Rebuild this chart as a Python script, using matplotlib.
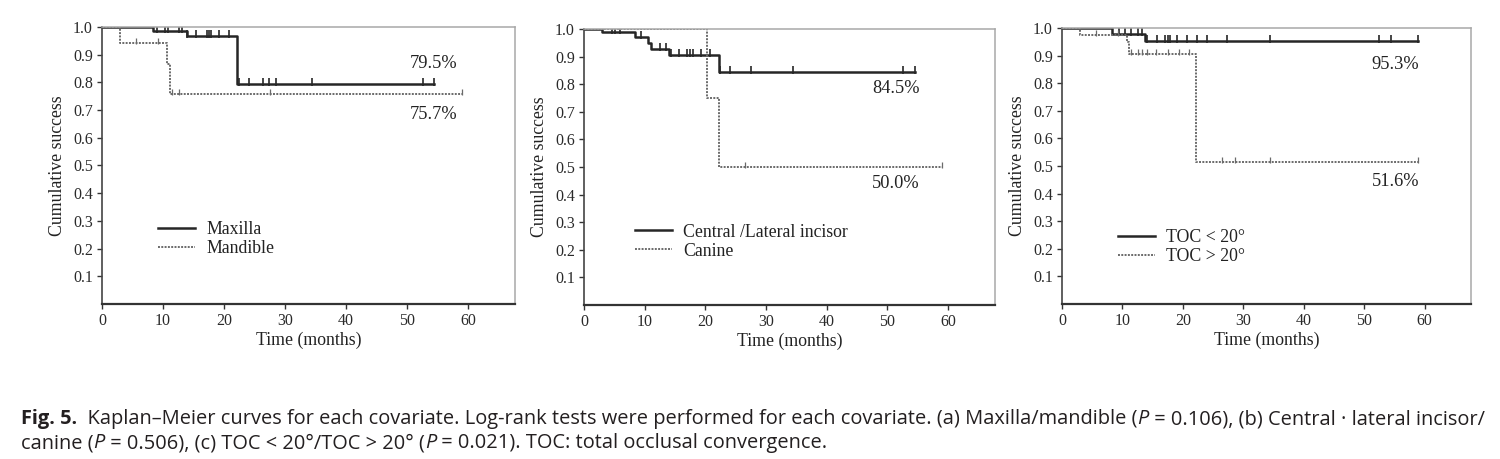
import numpy as np
import matplotlib
matplotlib.use("Agg")
import matplotlib.pyplot as plt

# ---------------- data ----------------
# Panel (a): Maxilla / Mandible
a_g1_label = "Maxilla"
a_g1_t = [0, 8.3, 13.9, 22.2, 54.5]
a_g1_s = [1.0, 0.986, 0.967, 0.795, 0.795]
a_g1_c = [9.0, 10.4, 10.9, 12.6, 13.1, 14.0, 15.4, 17.2, 17.5, 17.9, 19.2, 20.8,
          22.5, 24.1, 26.4, 27.4, 28.6, 34.4, 52.7, 54.5]
a_g2_label = "Mandible"
a_g2_t = [0, 3.0, 10.7, 11.1, 59.0]
a_g2_s = [1.0, 0.944, 0.865, 0.757, 0.757]
a_g2_c = [5.6, 9.2, 11.5, 12.7, 27.5, 59.0]
a_pct = ["79.5%", "75.7%"]

# Panel (b): Central/Lateral incisor / Canine
b_g1_label = "Central /Lateral incisor"
b_g1_t = [0, 3.0, 8.4, 10.6, 11.1, 14.0, 22.2, 54.5]
b_g1_s = [1.0, 0.988, 0.971, 0.95, 0.928, 0.907, 0.845, 0.845]
b_g1_c = [4.6, 5.1, 5.9, 9.4, 12.5, 13.5, 14.3, 15.7, 17.0, 17.5, 17.9, 19.3, 20.7,
          22.4, 24.0, 27.5, 34.5, 52.5, 54.5]
b_g2_label = "Canine"
b_g2_t = [0, 20.3, 22.3, 59.0]
b_g2_s = [1.0, 0.75, 0.5, 0.5]
b_g2_c = [26.5, 59.0]
b_pct = ["84.5%", "50.0%"]

# Panel (c): TOC < 20 / TOC > 20
c_g1_label = "TOC < 20°"
c_g1_t = [0, 8.3, 13.8, 59.0]
c_g1_s = [1.0, 0.978, 0.953, 0.953]
c_g1_c = [9.5, 10.5, 11.5, 12.5, 13.3, 14.1, 15.7, 17.1, 17.5, 17.9, 19.1, 20.7,
          22.3, 24.0, 27.3, 34.5, 52.5, 54.5, 59.0]
c_g2_label = "TOC > 20°"
c_g2_t = [0, 3.0, 10.7, 11.1, 22.2, 59.0]
c_g2_s = [1.0, 0.975, 0.95, 0.905, 0.516, 0.516]
c_g2_c = [5.6, 9.2, 11.5, 12.5, 13.3, 14.1, 15.5, 17.5, 19.3, 21.0, 26.5, 28.7, 34.5, 59.0]
c_pct = ["95.3%", "51.6%"]

x_ticks = [0, 10, 20, 30, 40, 50, 60]
y_ticks = [0.1, 0.2, 0.3, 0.4, 0.5, 0.6, 0.7, 0.8, 0.9, 1.0]
x_label = "Time (months)"
y_label = "Cumulative success"

caption_line1 = [("Fig. 5.", "bold", "normal"),
                 ("  Kaplan–Meier curves for each covariate. Log-rank tests were performed for each covariate. (a) Maxilla/mandible (", "normal", "normal"),
                 ("P", "normal", "italic"),
                 (" = 0.106), (b) Central · lateral incisor/", "normal", "normal")]
caption_line2 = [("canine (", "normal", "normal"),
                 ("P", "normal", "italic"),
                 (" = 0.506), (c) TOC < 20°/TOC > 20° (", "normal", "normal"),
                 ("P", "normal", "italic"),
                 (" = 0.021). TOC: total occlusal convergence.", "normal", "normal")]

# ---------------- styling ----------------
SERIF = ["Liberation Serif", "DejaVu Serif"]
SANS = ["Open Sans", "Noto Sans", "DejaVu Sans"]
plt.rcParams["font.family"] = SERIF

fig = plt.figure(figsize=(15.0, 4.59), dpi=100)

panels = [
    dict(rect=[0.068, 0.3377, 0.2753, 0.6035],
         g1=(a_g1_label, a_g1_t, a_g1_s, a_g1_c), g2=(a_g2_label, a_g2_t, a_g2_s, a_g2_c),
         pct=a_pct, pct_pos=[(54.3, 0.867), (54.3, 0.683)], leg=(0.136, 0.300)),
    dict(rect=[0.3893, 0.3355, 0.274, 0.6013],
         g1=(b_g1_label, b_g1_t, b_g1_s, b_g1_c), g2=(b_g2_label, b_g2_t, b_g2_s, b_g2_c),
         pct=b_pct, pct_pos=[(51.4, 0.784), (51.4, 0.439)], leg=(0.124, 0.295)),
    dict(rect=[0.708, 0.3377, 0.2727, 0.6013],
         g1=(c_g1_label, c_g1_t, c_g1_s, c_g1_c), g2=(c_g2_label, c_g2_t, c_g2_s, c_g2_c),
         pct=c_pct, pct_pos=[(55.2, 0.869), (55.2, 0.443)], leg=(0.137, 0.272)),
]

def step_value(t, times, surv):
    idx = np.searchsorted(np.asarray(times), np.asarray(t), side="right") - 1
    idx = np.clip(idx, 0, len(surv) - 1)
    return np.asarray(surv)[idx]

for p in panels:
    ax = fig.add_axes(p["rect"])
    for (lab, t, s, c), style in [(p["g1"], dict(color="#262626", lw=1.8, ls="-")),
                                  (p["g2"], dict(color="#6a6a6a", lw=1.4, ls=(0, (1, 0.7))))]:
        ax.step(t, s, where="post", label=lab, **style)
        cy = step_value(c, t, s)
        solid = style["ls"] == "-"
        ax.plot(c, cy + 0.007, ls="none", marker="|", ms=6 if solid else 5,
                mew=1.2 if solid else 0.9, color=style["color"])
    ax.set_xlim(0, 67.7)
    ax.set_ylim(0, 1.0)
    ax.set_xticks(x_ticks)
    ax.set_yticks(y_ticks)
    ax.set_yticklabels([f"{v:.1f}" for v in y_ticks])
    ax.tick_params(axis="both", direction="out", length=3.5, width=1.0, labelsize=11.5,
                   colors="#333333", labelcolor="#2a2a2a", pad=3)
    ax.spines["left"].set_color("#444444")
    ax.spines["left"].set_linewidth(1.2)
    ax.spines["bottom"].set_color("#333333")
    ax.spines["bottom"].set_linewidth(1.6)
    for side in ["top", "right"]:
        ax.spines[side].set_color("#a8a8a8")
        ax.spines[side].set_linewidth(1.1)
    ax.set_xlabel(x_label, fontsize=12.8, color="#222222", labelpad=2)
    ax.set_ylabel(y_label, fontsize=12.8, color="#222222", labelpad=5)
    for txt, (px, py) in zip(p["pct"], p["pct_pos"]):
        ax.text(px, py, txt, ha="center", va="center", fontsize=13.2, color="#222222")
    ax.legend(loc="upper left", bbox_to_anchor=p["leg"], frameon=False, fontsize=12.8,
              borderaxespad=0, borderpad=0, handlelength=2.1, handletextpad=0.6,
              labelspacing=0.12, labelcolor="#222222")

# ---------------- caption ----------------
def draw_line(pieces, x0, y, fs, renderer):
    x = x0
    texts = []
    for s, w, st in pieces:
        t = fig.text(x / 1500.0, y, s, fontsize=fs, fontweight=w, fontstyle=st,
                     family=SANS, color="#231f20", ha="left", va="baseline")
        bb = t.get_window_extent(renderer=renderer)
        texts.append(t)
        x = bb.x1
    return texts, x - x0

renderer = fig.canvas.get_renderer()
target = 1470.0
fs = 12.0
for _ in range(4):
    tmp, w = draw_line(caption_line1, 21, 0.0, fs, renderer)
    for t in tmp:
        t.remove()
    fs = fs * target / w
fs = fs * 0.995
draw_line(caption_line1, 21, 1 - 424 / 459.0, fs, renderer)
draw_line(caption_line2, 21, 1 - 448 / 459.0, fs, renderer)

fig.savefig("out.png", dpi=100, facecolor="white")
